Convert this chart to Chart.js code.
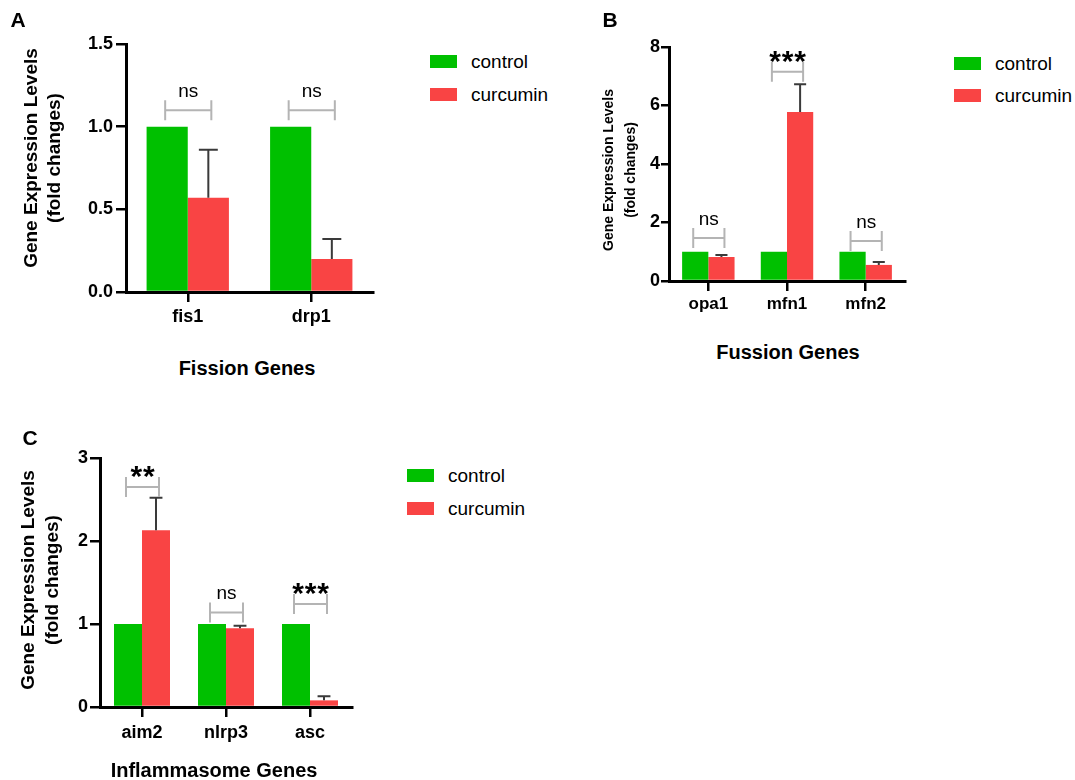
<!DOCTYPE html>
<html>
<head>
<meta charset="utf-8">
<script src="https://cdn.jsdelivr.net/npm/chart.js@4"></script>
<style>
  body { margin: 0; background: #fff; font-family: "Liberation Sans", Arial, sans-serif; }
  #page { position: relative; width: 1075px; height: 780px; overflow: hidden; }
  canvas { position: absolute; }
  .lbl { position: absolute; transform: translate(-50%, -50%); white-space: nowrap; color: #000; }
  .bold { font-weight: bold; }
  .ytitle { position: absolute; transform: translate(-50%, -50%) rotate(-90deg); white-space: nowrap; text-align: center; font-weight: bold; color: #000; }
  .sw { position: absolute; }
  .lg { position: absolute; transform: translateY(-50%); white-space: nowrap; font-size: 19px; color: #000; }
</style>
</head>
<body>
<div id="page">
  <canvas id="chartA" width="390" height="330" style="left:0px;top:0px"></canvas>
  <canvas id="chartB" width="340" height="320" style="left:580px;top:0px"></canvas>
  <canvas id="chartC" width="390" height="340" style="left:0px;top:420px"></canvas>
</div>
<script>
// Data
const seriesNames = ["control", "curcumin"];
const seriesColors = ["#00c000", "#f94444"];

const genesA = ["fis1", "drp1"];
const controlA = [1, 1];
const curcuminA = [0.57, 0.2];
const errorA = [0.29, 0.12];
const sigA = ["ns", "ns"];
const sigLevelA = [1.1, 1.1];
const yTicksA = [0, 0.5, 1, 1.5];

const genesB = ["opa1", "mfn1", "mfn2"];
const controlB = [1, 1, 1];
const curcuminB = [0.82, 5.78, 0.55];
const errorB = [0.07, 0.95, 0.1];
const sigB = ["ns", "***", "ns"];
const sigLevelB = [1.47, 7.15, 1.37];
const yTicksB = [0, 2, 4, 6, 8];

const genesC = ["aim2", "nlrp3", "asc"];
const controlC = [1, 1, 1];
const curcuminC = [2.13, 0.95, 0.08];
const errorC = [0.39, 0.03, 0.05];
const sigC = ["**", "ns", "***"];
const sigLevelC = [2.65, 1.14, 1.24];
const yTicksC = [0, 1, 2, 3];

const FONT = '"Liberation Sans", Arial, sans-serif';

// error bars + significance brackets
const annotate = {
  id: "annotate",
  afterDatasetsDraw(chart, args, opts) {
    const ctx = chart.ctx;
    const y = chart.scales.y;
    const ctrl = chart.getDatasetMeta(0).data;
    const cur = chart.getDatasetMeta(1).data;
    const vals = chart.data.datasets[1].data;
    ctx.save();
    ctx.lineCap = "butt";
    opts.errors.forEach((e, i) => {
      const bar = cur[i];
      const top = y.getPixelForValue(vals[i] + e);
      const half = bar.width * 0.23;
      ctx.strokeStyle = "#3a3a3a";
      ctx.lineWidth = 2;
      ctx.beginPath();
      ctx.moveTo(bar.x, bar.y);
      ctx.lineTo(bar.x, top);
      ctx.moveTo(bar.x - half, top);
      ctx.lineTo(bar.x + half, top);
      ctx.stroke();
    });
    opts.sig.forEach((s, i) => {
      const yb = y.getPixelForValue(opts.levels[i]);
      const x1 = ctrl[i].x - 2;
      const x2 = cur[i].x + 3;
      ctx.strokeStyle = "#b4b4b4";
      ctx.lineWidth = 2;
      ctx.beginPath();
      ctx.moveTo(x1, yb); ctx.lineTo(x2, yb);
      ctx.moveTo(x1, yb - 10); ctx.lineTo(x1, yb + 10);
      ctx.moveTo(x2, yb - 10); ctx.lineTo(x2, yb + 10);
      ctx.stroke();
      const cx = (x1 + x2) / 2;
      const cy = yb - 18;
      ctx.fillStyle = "#000";
      ctx.textAlign = "center";
      ctx.textBaseline = "alphabetic";
      if (s === "ns") {
        ctx.font = "19px " + FONT;
        ctx.fillText(s, cx, cy + 5);
      } else {
        // stars drawn one by one, a bit wider apart
        ctx.font = "bold 30px " + FONT;
        const step = 12.5;
        const n = s.length;
        for (let k = 0; k < n; k++) {
          ctx.fillText("*", cx + (k - (n - 1) / 2) * step, cy + 17);
        }
      }
    });
    ctx.restore();
  }
};

function makeChart(id, genes, control, curcumin, errors, sig, levels, yTicks, decimals, lay) {
  return new Chart(document.getElementById(id), {
    type: "bar",
    data: {
      labels: genes,
      datasets: [
        { label: seriesNames[0], data: control, backgroundColor: seriesColors[0] },
        { label: seriesNames[1], data: curcumin, backgroundColor: seriesColors[1] }
      ]
    },
    options: {
      responsive: false,
      animation: false,
      devicePixelRatio: 1,
      categoryPercentage: 2 / 3,
      barPercentage: 1,
      layout: { padding: { left: 0, top: lay.top, right: lay.right, bottom: 0 } },
      plugins: {
        legend: { display: false },
        tooltip: { enabled: false },
        annotate: { errors: errors, sig: sig, levels: levels }
      },
      scales: {
        x: {
          offset: true,
          afterFit: s => { s.height = lay.xHeight; },
          grid: { display: true, offset: false, drawOnChartArea: false, drawTicks: true, tickLength: 10, color: "#000", lineWidth: 2.5 },
          border: { display: true, color: "#000", width: 3 },
          ticks: { color: "#000", padding: lay.xPad, font: { family: FONT, size: lay.xFont, weight: "bold" } }
        },
        y: {
          min: yTicks[0],
          max: yTicks[yTicks.length - 1],
          afterFit: s => { s.width = lay.yWidth; },
          afterBuildTicks: s => { s.ticks = yTicks.map(v => ({ value: v })); },
          grid: { display: true, drawOnChartArea: false, drawTicks: true, tickLength: lay.yTick, color: "#000", lineWidth: 2.5 },
          border: { display: true, color: "#000", width: 3 },
          ticks: {
            color: "#000", padding: lay.yPad,
            font: { family: FONT, size: 18, weight: "bold" },
            callback: v => v.toFixed(decimals)
          }
        }
      }
    },
    plugins: [annotate]
  });
}

makeChart("chartA", genesA, controlA, curcuminA, errorA, sigA, sigLevelA, yTicksA, 1,
  { top: 44, right: 17, xHeight: 38, yWidth: 126, xPad: 4, xFont: 18, yTick: 10, yPad: 3 });
makeChart("chartB", genesB, controlB, curcuminB, errorB, sigB, sigLevelB, yTicksB, 0,
  { top: 47, right: 15, xHeight: 39, yWidth: 89, xPad: 3, xFont: 17, yTick: 8, yPad: 1 });
makeChart("chartC", genesC, controlC, curcuminC, errorC, sigC, sigLevelC, yTicksC, 0,
  { top: 38, right: 38, xHeight: 53, yWidth: 100, xPad: 5, xFont: 18, yTick: 10, yPad: 2 });

// Text around the charts
const page = document.getElementById("page");
function addText(cls, text, x, y, style) {
  const d = document.createElement("div");
  d.className = cls;
  d.innerHTML = text;
  d.style.left = x + "px";
  d.style.top = y + "px";
  Object.assign(d.style, style || {});
  page.appendChild(d);
}
addText("lbl bold", "A", 18, 20, { fontSize: "21px" });
addText("lbl bold", "B", 610, 20, { fontSize: "21px" });
addText("lbl bold", "C", 30, 438, { fontSize: "21px" });

addText("ytitle", "Gene Expression Levels<br>(fold changes)", 41.5, 158, { fontSize: "19px", lineHeight: "23px" });
addText("ytitle", "Gene Expression Levels<br>(fold changes)", 619, 170, { fontSize: "14px", lineHeight: "22px" });
addText("ytitle", "Gene Expression Levels<br>(fold changes)", 40, 580, { fontSize: "19px", lineHeight: "24px" });

addText("lbl bold", "Fission Genes", 247, 368, { fontSize: "20px" });
addText("lbl bold", "Fussion Genes", 788, 352, { fontSize: "20px" });
addText("lbl bold", "Inflammasome Genes", 214, 770, { fontSize: "20px" });

function addLegend(x, y0, gap) {
  seriesNames.forEach((name, i) => {
    const sw = document.createElement("div");
    sw.className = "sw";
    Object.assign(sw.style, { left: x + "px", top: (y0 + i * gap) + "px", width: "27px", height: "13px", background: seriesColors[i] });
    page.appendChild(sw);
    addText("lg", name, x + 41, y0 + i * gap + 6.5);
  });
}
addLegend(430, 55, 33);
addLegend(954, 57, 32);
addLegend(407, 469, 33);
</script>
</body>
</html>
